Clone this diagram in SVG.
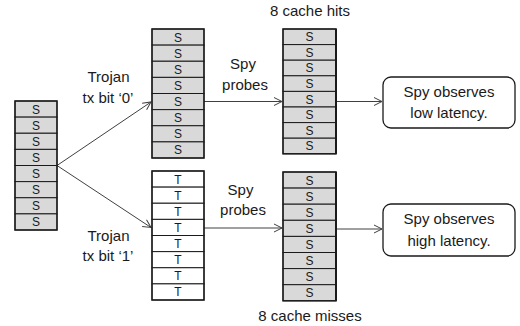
<svg xmlns="http://www.w3.org/2000/svg" width="520" height="326" viewBox="0 0 520 326">
<defs>
<style>
.s{fill:#d9d9d9;stroke:#1a1a1a;stroke-width:1}
.t{fill:#ffffff;stroke:#1a1a1a;stroke-width:1}
.o{fill:none;stroke:#1a1a1a;stroke-width:1.4}
.c{font-family:"Liberation Sans",Arial,sans-serif;font-size:12px;fill:#1a1a1a;text-anchor:middle}
.l{font-family:"Liberation Sans",Arial,sans-serif;font-size:15px;fill:#1a1a1a;text-anchor:middle}
.a{fill:none;stroke:#404040;stroke-width:1}
.b{fill:#ffffff;stroke:#1a1a1a;stroke-width:1.3}
</style>
<marker id="ah" markerUnits="userSpaceOnUse" markerWidth="12" markerHeight="12" refX="9" refY="5" orient="auto">
<path d="M1,1 L9,5 L1,9" fill="none" stroke="#404040" stroke-width="1"/>
</marker>
</defs>
<rect width="520" height="326" fill="#ffffff"/>

<g id="connectors">
<line class="a" x1="57" y1="165.5" x2="151" y2="102" marker-end="url(#ah)"/>
<line class="a" x1="57" y1="165.5" x2="151" y2="227.5" marker-end="url(#ah)"/>
<line class="a" x1="204" y1="101.5" x2="282" y2="101.5" marker-end="url(#ah)"/>
<line class="a" x1="204" y1="228" x2="282" y2="228" marker-end="url(#ah)"/>
<line class="a" x1="336" y1="101.5" x2="382" y2="101.5" marker-end="url(#ah)"/>
<line class="a" x1="336" y1="229" x2="382" y2="229" marker-end="url(#ah)"/>
</g>

<g id="sender-stack">
<rect class="s" x="15" y="101" width="42" height="16.125"/>
<rect class="s" x="15" y="117.125" width="42" height="16.125"/>
<rect class="s" x="15" y="133.25" width="42" height="16.125"/>
<rect class="s" x="15" y="149.375" width="42" height="16.125"/>
<rect class="s" x="15" y="165.5" width="42" height="16.125"/>
<rect class="s" x="15" y="181.625" width="42" height="16.125"/>
<rect class="s" x="15" y="197.75" width="42" height="16.125"/>
<rect class="s" x="15" y="213.875" width="42" height="16.125"/>
<rect class="o" x="15" y="101" width="42" height="129"/>
<text class="c" x="36" y="113.5">S</text>
<text class="c" x="36" y="129.6">S</text>
<text class="c" x="36" y="145.7">S</text>
<text class="c" x="36" y="161.9">S</text>
<text class="c" x="36" y="178">S</text>
<text class="c" x="36" y="194.1">S</text>
<text class="c" x="36" y="210.2">S</text>
<text class="c" x="36" y="226.4">S</text>
</g>

<g id="set-bit0">
<rect class="s" x="152" y="29" width="52" height="16.125"/>
<rect class="s" x="152" y="45.125" width="52" height="16.125"/>
<rect class="s" x="152" y="61.25" width="52" height="16.125"/>
<rect class="s" x="152" y="77.375" width="52" height="16.125"/>
<rect class="s" x="152" y="93.5" width="52" height="16.125"/>
<rect class="s" x="152" y="109.625" width="52" height="16.125"/>
<rect class="s" x="152" y="125.75" width="52" height="16.125"/>
<rect class="s" x="152" y="141.875" width="52" height="16.125"/>
<rect class="o" x="152" y="29" width="52" height="129"/>
<text class="c" x="178" y="41.5">S</text>
<text class="c" x="178" y="57.6">S</text>
<text class="c" x="178" y="73.7">S</text>
<text class="c" x="178" y="89.9">S</text>
<text class="c" x="178" y="106">S</text>
<text class="c" x="178" y="122.1">S</text>
<text class="c" x="178" y="138.2">S</text>
<text class="c" x="178" y="154.4">S</text>
</g>

<g id="set-bit1">
<rect class="t" x="152" y="171" width="52" height="16.125"/>
<rect class="t" x="152" y="187.125" width="52" height="16.125"/>
<rect class="t" x="152" y="203.25" width="52" height="16.125"/>
<rect class="t" x="152" y="219.375" width="52" height="16.125"/>
<rect class="t" x="152" y="235.5" width="52" height="16.125"/>
<rect class="t" x="152" y="251.625" width="52" height="16.125"/>
<rect class="t" x="152" y="267.75" width="52" height="16.125"/>
<rect class="t" x="152" y="283.875" width="52" height="16.125"/>
<rect class="o" x="152" y="171" width="52" height="129"/>
<text class="c" x="178" y="183.5">T</text>
<text class="c" x="178" y="199.6">T</text>
<text class="c" x="178" y="215.7">T</text>
<text class="c" x="178" y="231.9">T</text>
<text class="c" x="178" y="248">T</text>
<text class="c" x="178" y="264.1">T</text>
<text class="c" x="178" y="280.2">T</text>
<text class="c" x="178" y="296.4">T</text>
</g>

<g id="probe-hits">
<rect class="s" x="283" y="29" width="53" height="15.6"/>
<rect class="s" x="283" y="44.6" width="53" height="15.6"/>
<rect class="s" x="283" y="60.2" width="53" height="15.6"/>
<rect class="s" x="283" y="75.8" width="53" height="15.6"/>
<rect class="s" x="283" y="91.4" width="53" height="15.6"/>
<rect class="s" x="283" y="107" width="53" height="15.6"/>
<rect class="s" x="283" y="122.6" width="53" height="15.6"/>
<rect class="s" x="283" y="138.2" width="53" height="15.6"/>
<rect class="o" x="283" y="29" width="53" height="124.8"/>
<line x1="336" y1="29" x2="336" y2="153.8" stroke="#1a1a1a" stroke-width="2"/>
<text class="c" x="309.5" y="41.2">S</text>
<text class="c" x="309.5" y="56.8">S</text>
<text class="c" x="309.5" y="72.4">S</text>
<text class="c" x="309.5" y="88">S</text>
<text class="c" x="309.5" y="103.6">S</text>
<text class="c" x="309.5" y="119.2">S</text>
<text class="c" x="309.5" y="134.8">S</text>
<text class="c" x="309.5" y="150.4">S</text>
</g>

<g id="probe-misses">
<rect class="s" x="283" y="172" width="53" height="16.1"/>
<rect class="s" x="283" y="188.1" width="53" height="16.1"/>
<rect class="s" x="283" y="204.2" width="53" height="16.1"/>
<rect class="s" x="283" y="220.3" width="53" height="16.1"/>
<rect class="s" x="283" y="236.4" width="53" height="16.1"/>
<rect class="s" x="283" y="252.5" width="53" height="16.1"/>
<rect class="s" x="283" y="268.6" width="53" height="16.1"/>
<rect class="s" x="283" y="284.7" width="53" height="16.1"/>
<rect class="o" x="283" y="172" width="53" height="128.8"/>
<line x1="336" y1="172" x2="336" y2="300.8" stroke="#1a1a1a" stroke-width="2"/>
<text class="c" x="309.5" y="184.5">S</text>
<text class="c" x="309.5" y="200.6">S</text>
<text class="c" x="309.5" y="216.7">S</text>
<text class="c" x="309.5" y="232.8">S</text>
<text class="c" x="309.5" y="248.9">S</text>
<text class="c" x="309.5" y="265">S</text>
<text class="c" x="309.5" y="281.1">S</text>
<text class="c" x="309.5" y="297.2">S</text>
</g>

<g id="result-low">
<rect class="b" x="383" y="77" width="132" height="51" rx="8" ry="8"/>
<text class="l" x="449" y="96.5">Spy observes</text>
<text class="l" x="449" y="118">low latency.</text>
</g>

<g id="result-high">
<rect class="b" x="383" y="204" width="132" height="52" rx="8" ry="8"/>
<text class="l" x="449" y="224">Spy observes</text>
<text class="l" x="449" y="245.5">high latency.</text>
</g>

<g id="labels">
<text class="l" x="310" y="16">8 cache hits</text>
<text class="l" x="310" y="321">8 cache misses</text>
<text class="l" x="108.5" y="82">Trojan</text>
<text class="l" x="108" y="103">tx bit ‘0’</text>
<text class="l" x="108.5" y="240.5">Trojan</text>
<text class="l" x="108" y="261">tx bit ‘1’</text>
<text class="l" x="243" y="69">Spy</text>
<text class="l" x="245" y="90">probes</text>
<text class="l" x="240.5" y="195">Spy</text>
<text class="l" x="243" y="215">probes</text>
</g>
</svg>
